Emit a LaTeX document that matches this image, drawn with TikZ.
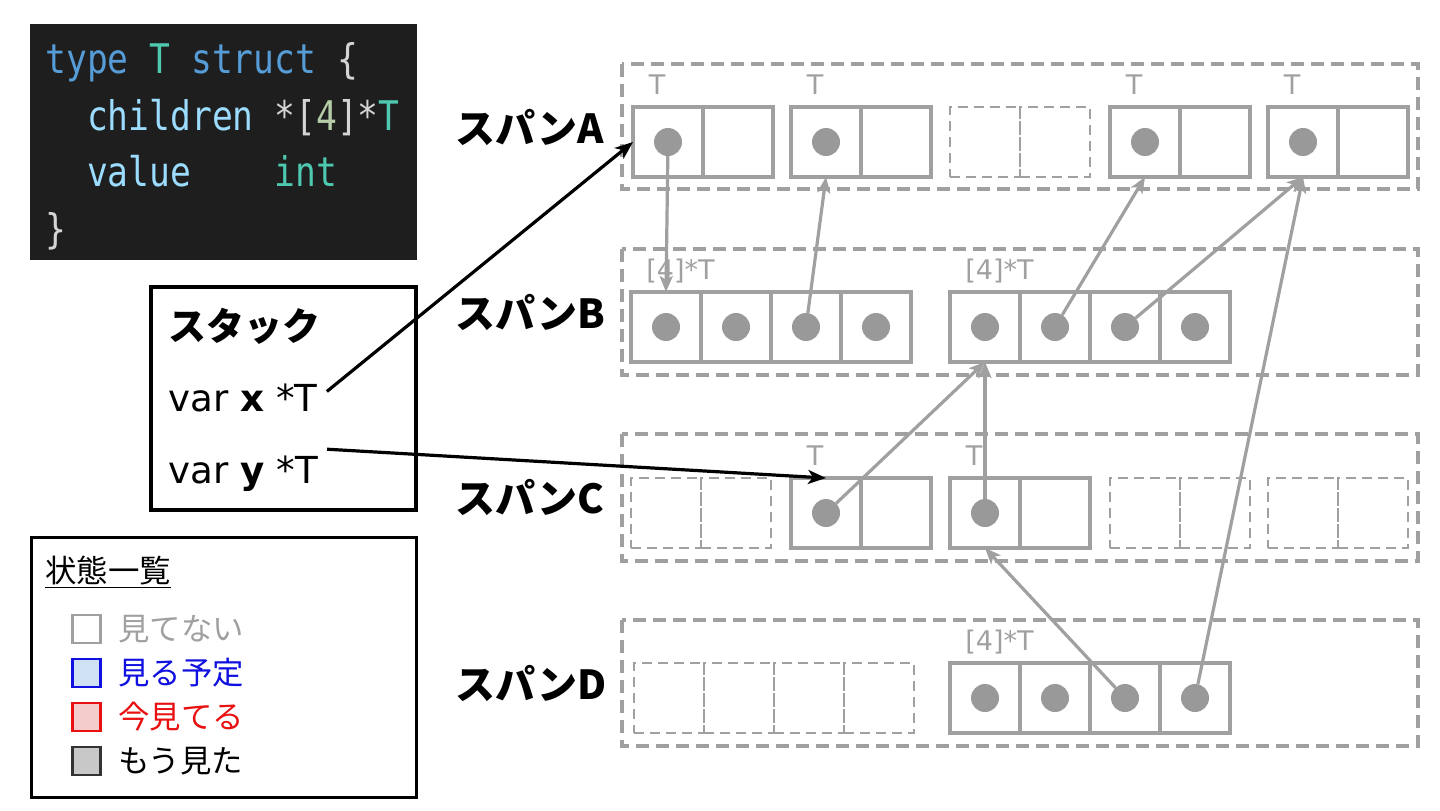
\documentclass[tikz,border=0pt]{standalone}
\usepackage{fontspec}
\setmainfont{DejaVu Sans}
\newfontfamily\jpfont{Noto Sans CJK JP}
\newfontfamily\codefont{DejaVu Sans Mono}
\usetikzlibrary{arrows.meta}
\definecolor{lg}{HTML}{A0A0A0}
\definecolor{dotc}{HTML}{999999}
\definecolor{codebg}{HTML}{1E1E1E}
\definecolor{ckw}{HTML}{569CD6}
\definecolor{cty}{HTML}{4EC9B0}
\definecolor{cvar}{HTML}{9CDCFE}
\definecolor{cpl}{HTML}{D4D4D4}
\definecolor{cnum}{HTML}{B5CEA8}
\definecolor{lblue}{HTML}{CFE2F3}
\definecolor{lred}{HTML}{F4CCCC}
\definecolor{lgray}{HTML}{C8C8C8}
\definecolor{tblue}{HTML}{1010E0}
\definecolor{tred}{HTML}{E81010}
\newcommand\csp{\phantom{0}}
\newcommand\tpair[3]{%
  \node[cell] (#1a) at (#2,#3) {};
  \node[cell] (#1b) at ({#2+70},#3) {};
  \node[dot] (d#1) at (#2,#3) {};
  \node[tlab] (t#1) at ({#2-11},{#3-57}) {T};
}
\newcommand\dpair[3]{%
  \node[dcell] (#1a) at (#2,#3) {};
  \node[dcell] (#1b) at ({#2+70},#3) {};
}
\newcommand\arrfour[3]{%
  \foreach \i/\l in {0/a,1/b,2/c,3/d}{
    \node[cell] (#1\l) at ({#2+70*\i},#3) {};
    \node[dot] (d#1\l) at ({#2+70*\i},#3) {};
  }
  \node[tlab,anchor=west] (t#1) at ({#2-20},{#3-56}) {[4]*T};
}
\newcommand\dfour[3]{%
  \foreach \i/\l in {0/a,1/b,2/c,3/d}{
    \node[dcell] (#1\l) at ({#2+70*\i},#3) {};
  }
}
\newcommand\tallcode[1]{\scalebox{1}[1.18]{#1}}
\begin{document}
\begin{tikzpicture}[x=0.5pt,y=-0.5pt,
  cell/.style={draw=lg, line width=1.6pt, minimum width=35pt, minimum height=35pt, inner sep=0pt, outer sep=0pt},
  dcell/.style={cell, dash pattern=on 5pt off 3pt, line width=1.45pt},
  dot/.style={circle, fill=dotc, minimum size=14pt, inner sep=0pt, outer sep=0pt},
  spanbox/.style={draw=lg, line width=1.7pt, dash pattern=on 6.5pt off 3.5pt},
  tlab/.style={text=lg, font=\fontsize{13.5pt}{15pt}\selectfont, inner sep=0pt},
  spanlab/.style={font=\jpfont\bfseries\fontsize{20pt}{24pt}\selectfont, anchor=west, inner sep=0pt},
  codeline/.style={font=\codefont\fontsize{17.3pt}{22pt}\selectfont, anchor=base west, inner sep=0pt},
  stk/.style={font=\fontsize{18.6pt}{22pt}\selectfont, anchor=base west, inner sep=0pt},
  legt/.style={font=\jpfont\fontsize{15.7pt}{18pt}\selectfont, anchor=west, inner sep=0pt},
  lsq/.style={minimum size=14pt, inner sep=0pt, line width=1.1pt},
  garrow/.style={draw=lg, line width=1.6pt, -{Stealth[length=8pt,width=6.5pt,inset=2pt]}},
  barrow/.style={draw=black, line width=1.6pt, -{Stealth[length=9pt,width=7pt,inset=2.5pt]}},
]
\useasboundingbox (0,0) rectangle (1440,810);
% code box
\fill[codebg] (30,24) rectangle (417,260);
\node[codeline] (c1) at (45,73) {\tallcode{\textcolor{ckw}{type}\csp\textcolor{cty}{T}\csp\textcolor{ckw}{struct}\csp\textcolor{cpl}{\{}}};
\node[codeline] (c2) at (45,130) {\tallcode{\csp\csp\textcolor{cvar}{children}\csp\textcolor{cpl}{*[}\textcolor{cnum}{4}\textcolor{cpl}{]*}\textcolor{cty}{T}}};
\node[codeline] (c3) at (45,186) {\tallcode{\csp\csp\textcolor{cvar}{value}\csp\csp\csp\csp\textcolor{cty}{int}}};
\node[codeline] (c4) at (45,243) {\tallcode{\textcolor{cpl}{\}}}};
% stack box
\draw[line width=1.6pt] (151,287) rectangle (416,510);
\node[font=\jpfont\bfseries\fontsize{19pt}{22pt}\selectfont, anchor=west, inner sep=0pt] (stack) at (168,326) {スタック};
\node[stk] (vx) at (168,411) {var \textbf{x} *T};
\node[stk] (vy) at (168,483) {var \textbf{y} *T};
% legend
\draw[line width=1.5pt] (31,537) rectangle (416,797);
\node[legt] (lt) at (45,572) {\underline{状態一覧}};
\node[lsq, draw=lg, fill=white] (s1) at (86.5,629) {};
\node[lsq, draw=tblue, fill=lblue] (s2) at (86.5,673) {};
\node[lsq, draw=tred, fill=lred] (s3) at (86.5,717) {};
\node[lsq, draw=black!80, fill=lgray] (s4) at (86.5,761) {};
\node[legt, text=lg] (l1) at (118,629) {見てない};
\node[legt, text=tblue] (l2) at (118,673) {見る予定};
\node[legt, text=tred] (l3) at (118,717) {今見てる};
\node[legt] (l4) at (118,761) {もう見た};
% span labels
\node[spanlab] (sa) at (455,127) {スパンA};
\node[spanlab] (sb) at (455,312) {スパンB};
\node[spanlab] (sc) at (455,497) {スパンC};
\node[spanlab] (sd) at (455,683) {スパンD};
% span boxes
\draw[spanbox] (622,64) rectangle (1418,189);
\draw[spanbox] (622,249) rectangle (1418,375);
\draw[spanbox] (622,434) rectangle (1418,561);
\draw[spanbox] (622,620) rectangle (1418,746);
% span A
\tpair{A1}{668}{142}
\tpair{A2}{826}{142}
\dpair{AX}{985}{142}
\tpair{A3}{1145}{142}
\tpair{A4}{1303}{142}
% span B
\arrfour{B1}{666}{327}
\arrfour{B2}{985}{327}
% span C
\dpair{CX}{666}{513}
\tpair{C1}{826}{513}
\tpair{C2}{985}{513}
\dpair{CY}{1145}{513}
\dpair{CZ}{1303}{513}
% span D
\dfour{DX}{669}{698}
\arrfour{D1}{985}{698}
% gray arrows
\draw[garrow] (dA1) -- (B1a.north);
\draw[garrow] (dB1c) -- (A2a.south);
\draw[garrow] (dB2b) -- (A3a.south);
\draw[garrow] (dB2c) -- (A4a.south);
\draw[garrow] (dC1) -- (B2a.south);
\draw[garrow] (dC2) -- (B2a.south);
\draw[garrow] (dD1c) -- (C2a.south);
\draw[garrow] (dD1d) -- (A4a.south);
% black arrows
\draw[barrow] ([xshift=4.5pt,yshift=3pt]vx.east) -- (A1a.west);
\draw[barrow] ([xshift=4.5pt,yshift=12pt]vy.east) -- (C1a.north);
\end{tikzpicture}
\end{document}
